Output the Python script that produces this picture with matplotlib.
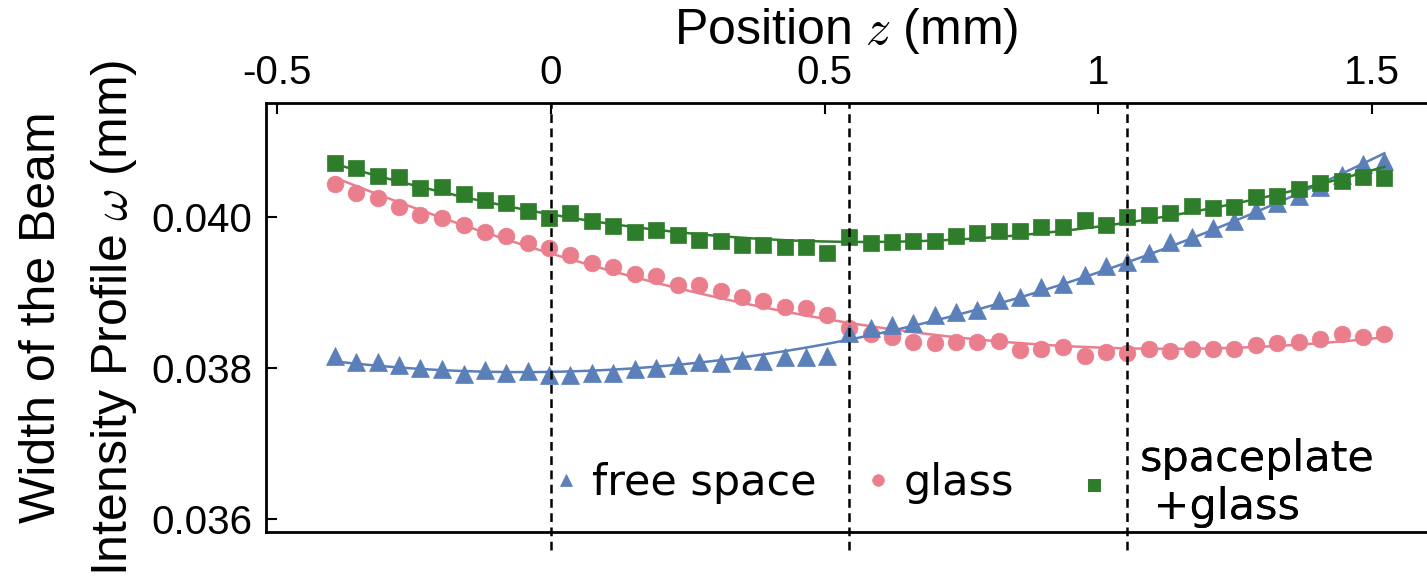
import matplotlib
matplotlib.use("Agg")
import matplotlib.pyplot as plt
import numpy as np

plt.rcParams["font.family"] = ["Liberation Sans", "DejaVu Sans"]
plt.rcParams["mathtext.fontset"] = "cm"
plt.rcParams["axes.unicode_minus"] = False

# position of the camera along the beam (mm)
z_mm = [-0.394, -0.355, -0.316, -0.277, -0.238, -0.198, -0.159, -0.120, -0.081, -0.042,
        -0.003, 0.036, 0.075, 0.114, 0.153, 0.193, 0.232, 0.271, 0.310, 0.349,
        0.388, 0.427, 0.466, 0.505, 0.544, 0.584, 0.623, 0.662, 0.701, 0.740,
        0.779, 0.818, 0.857, 0.896, 0.935, 0.975, 1.014, 1.053, 1.092, 1.131,
        1.170, 1.209, 1.248, 1.287, 1.326, 1.366, 1.405, 1.444, 1.483, 1.522]

# measured beam width (mm)
free_space = [0.038163, 0.038083, 0.038079, 0.038036, 0.037996, 0.037983, 0.037921, 0.037974, 0.037938, 0.037964,
              0.037903, 0.037907, 0.037936, 0.037930, 0.037984, 0.038007, 0.038040, 0.038077, 0.038066, 0.038113,
              0.038089, 0.038150, 0.038150, 0.038159, 0.038460, 0.038526, 0.038570, 0.038600, 0.038702, 0.038746,
              0.038768, 0.038901, 0.038944, 0.039077, 0.039113, 0.039232, 0.039353, 0.039408, 0.039519, 0.039673,
              0.039739, 0.039850, 0.039951, 0.040093, 0.040185, 0.040278, 0.040397, 0.040556, 0.040702, 0.040742]

glass = [0.040433, 0.040314, 0.040256, 0.040136, 0.040026, 0.039983, 0.039894, 0.039805, 0.039748, 0.039660,
         0.039585, 0.039497, 0.039397, 0.039334, 0.039245, 0.039216, 0.039103, 0.039106, 0.039026, 0.038944,
         0.038894, 0.038812, 0.038799, 0.038702, 0.038536, 0.038450, 0.038415, 0.038348, 0.038327, 0.038348,
         0.038348, 0.038362, 0.038238, 0.038248, 0.038274, 0.038159, 0.038210, 0.038199, 0.038248, 0.038229,
         0.038252, 0.038252, 0.038252, 0.038305, 0.038335, 0.038340, 0.038384, 0.038450, 0.038415, 0.038450]

spaceplate_glass = [0.040719, 0.040645, 0.040543, 0.040526, 0.040388, 0.040393, 0.040301, 0.040225, 0.040181, 0.040079,
                    0.039983, 0.040053, 0.039950, 0.039883, 0.039801, 0.039832, 0.039762, 0.039699, 0.039678, 0.039633,
                    0.039633, 0.039600, 0.039607, 0.039519, 0.039735, 0.039660, 0.039673, 0.039682, 0.039682, 0.039748,
                    0.039792, 0.039819, 0.039815, 0.039864, 0.039872, 0.039960, 0.039894, 0.039996, 0.040026, 0.040057,
                    0.040146, 0.040115, 0.040128, 0.040269, 0.040278, 0.040367, 0.040446, 0.040481, 0.040526, 0.040513]

# dashed reference positions (mm)
marker_z = [0.0, 0.545, 1.052]

x_ticks = [-0.5, 0, 0.5, 1, 1.5]
x_tick_labels = ["-0.5", "0", "0.5", "1", "1.5"]
y_ticks = [0.036, 0.038, 0.040]
y_tick_labels = ["0.036", "0.038", "0.040"]

BLUE = "#5b7fb9"
PINK = "#ea7e8c"
GREEN = "#2e7d2b"


def beam_fit(z, w, n=300):
    # gaussian beam: w^2 is quadratic in z
    z = np.asarray(z)
    w = np.asarray(w)
    coef = np.polyfit(z, w ** 2, 2)
    zz = np.linspace(z.min(), z.max(), n)
    return zz, np.sqrt(np.polyval(coef, zz))


W, H = 1427, 588
fig = plt.figure(figsize=(W / 100, H / 100), dpi=100)
ax = fig.add_axes([266 / W, 1 - 532 / H, 1 - 266 / W, 429 / H])

series = [
    (glass, "glass", "o", PINK, 2, 12),
    (free_space, "free space", "^", BLUE, 3, 13),
    (spaceplate_glass, "spaceplate\n +glass", "s", GREEN, 4, 12),
]
handles = []
for vals, label, mk, col, zo, ms in series:
    zz, ww = beam_fit(z_mm, vals)
    ax.plot(zz, ww, color=col, lw=1.8, zorder=zo)
    h, = ax.plot(z_mm, vals, ls="none", marker=mk, ms=ms, color=col,
                 mec=col, mew=0.5, label=label, zorder=zo)
    handles.append(h)

for zv in marker_z:
    ax.axvline(zv, ymin=-0.042, ymax=1, color="black", lw=1.8,
               ls=(0, (3.5, 2.2)), clip_on=False, zorder=5)

ax.set_xlim(-0.520, 1.600)
ax.set_ylim(0.03583, 0.04151)

ax.xaxis.tick_top()
ax.xaxis.set_label_position("top")
ax.set_xticks(x_ticks)
ax.set_xticklabels(x_tick_labels)
ax.set_yticks(y_ticks)
ax.set_yticklabels(y_tick_labels)
ax.tick_params(axis="both", direction="in", length=8, width=1.5, labelsize=29)
ax.tick_params(axis="x", pad=8)
ax.tick_params(axis="y", pad=10)

ax.spines["right"].set_visible(False)
for s in ("left", "top", "bottom"):
    ax.spines[s].set_linewidth(2)

ax.set_xlabel(r"Position $z$ (mm)", fontsize=36, labelpad=7)
ax.set_ylabel("Width of the Beam\nIntensity Profile $\\omega$ (mm)", fontsize=36,
              labelpad=9, linespacing=1.62)

# one legend per entry so each sits where it does in the figure
spots = [(0.2472, 0.114, 0.3), (0.516, 0.114, 0.3), (0.702, 0.114, 0.77)]
order = [handles[1], handles[0], handles[2]]
for h, (lx, ly, pad) in zip(order, spots):
    leg = ax.legend([h], [h.get_label()], loc="center left", bbox_to_anchor=(lx, ly),
                    frameon=False, borderpad=0, borderaxespad=0, handlelength=0.6,
                    handletextpad=pad, markerscale=0.7,
                    prop={"family": "DejaVu Sans", "size": 31})
    ax.add_artist(leg)

fig.savefig("out.png", dpi=100)
